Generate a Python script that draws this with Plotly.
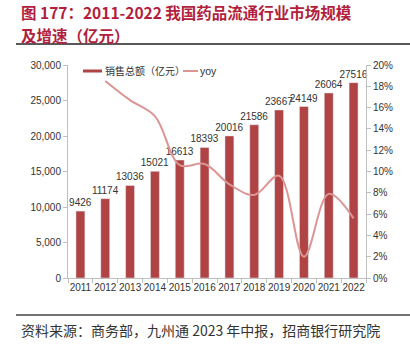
import plotly.graph_objects as go

years = ["2011", "2012", "2013", "2014", "2015", "2016", "2017", "2018", "2019", "2020", "2021", "2022"]
sales = [9426, 11174, 13036, 15021, 16613, 18393, 20016, 21586, 23667, 24149, 26064, 27516]
yoy_years = ["2012", "2013", "2014", "2015", "2016", "2017", "2018", "2019", "2020", "2021", "2022"]
yoy = [18.5, 16.7, 15.2, 10.6, 10.7, 8.8, 7.8, 9.6, 2.0, 7.9, 5.6]

BAR = "#B04343"
LINE = "#DC9595"
TITLE = "#B21E3E"
TXT = "#333333"
AX = "#BFBFBF"
CJK = "Noto Sans CJK SC"
LAT = "Liberation Sans, Arial"

W, H = 410, 353
L, R, T, B = 68, 44, 65, 75
PW, PH = W - L - R, H - T - B


def px(x):
    return (x - L) / PW


def py(y):
    return (H - B - y) / PH


fig = go.Figure()
fig.add_trace(go.Bar(
    x=years, y=sales, name="销售总额（亿元）", marker_color=BAR,
    text=[str(v) for v in sales], textposition="outside", constraintext="none",
    textfont=dict(size=10, color=TXT, family=LAT), cliponaxis=False,
    showlegend=False,
))
fig.add_trace(go.Scatter(
    x=yoy_years, y=yoy, name="yoy", yaxis="y2", mode="lines",
    line=dict(color=LINE, width=2, shape="spline", smoothing=1.0),
    showlegend=False,
))

fig.update_layout(
    width=W, height=H, margin=dict(l=L, r=R, t=T, b=B),
    paper_bgcolor="white", plot_bgcolor="white",
    bargap=0.64,
    font=dict(family=LAT, size=10, color=TXT),
    xaxis=dict(type="category", showline=True, linecolor=AX, linewidth=1,
               ticks="outside", ticklen=4, tickcolor=AX, tickson="boundaries",
               tickangle=0,
               tickfont=dict(size=10, color=TXT, family=LAT), showgrid=False),
    yaxis=dict(range=[0, 30000], dtick=5000, tickformat=",", showline=True,
               linecolor=AX, ticks="outside", ticklen=4, tickcolor=AX,
               showgrid=False, zeroline=False,
               tickfont=dict(size=10, color=TXT, family=LAT)),
    yaxis2=dict(range=[0, 20], dtick=2, ticksuffix="%", overlaying="y", side="right",
                showline=True, linecolor=AX, ticks="outside", ticklen=4, tickcolor=AX,
                showgrid=False, zeroline=False,
                tickfont=dict(size=10, color=TXT, family=LAT)),
)

# title
fig.add_annotation(xref="paper", yref="paper", x=px(19), y=py(12), xanchor="left", yanchor="middle",
                   text="<b>图 177：2011-2022 我国药品流通行业市场规模</b>",
                   showarrow=False, font=dict(family=CJK, size=15.5, color=TITLE))
fig.add_annotation(xref="paper", yref="paper", x=px(19), y=py(34.5), xanchor="left", yanchor="middle",
                   text="<b>及增速（亿元）</b>",
                   showarrow=False, font=dict(family=CJK, size=15.5, color=TITLE))
fig.add_shape(type="line", xref="paper", yref="paper", x0=px(16), x1=px(410), y0=py(44), y1=py(44),
              line=dict(color="#222222", width=1.5))
fig.add_shape(type="line", xref="paper", yref="paper", x0=px(16), x1=px(410), y0=py(315), y1=py(315),
              line=dict(color="#444444", width=1.5))
fig.add_annotation(xref="paper", yref="paper", x=px(19), y=py(330), xanchor="left", yanchor="middle",
                   text="资料来源：商务部，九州通 2023 年中报，招商银行研究院", showarrow=False,
                   font=dict(family=CJK, size=14, color=TXT))

# legend
fig.add_shape(type="rect", xref="paper", yref="paper", x0=px(83), x1=px(102), y0=py(69.5), y1=py(72.5),
              line=dict(width=0), fillcolor=BAR)
fig.add_annotation(xref="paper", yref="paper", x=px(102.5), y=py(71), xanchor="left", yanchor="middle",
                   text="销售总额（亿元）", showarrow=False, font=dict(family=CJK, size=10, color=TXT))
fig.add_shape(type="line", xref="paper", yref="paper", x0=px(183), x1=px(198), y0=py(71), y1=py(71),
              line=dict(color=LINE, width=2))
fig.add_annotation(xref="paper", yref="paper", x=px(198), y=py(71), xanchor="left", yanchor="middle",
                   text="yoy", showarrow=False, font=dict(family=LAT, size=10.5, color=TXT))

fig.write_html("out.html")
